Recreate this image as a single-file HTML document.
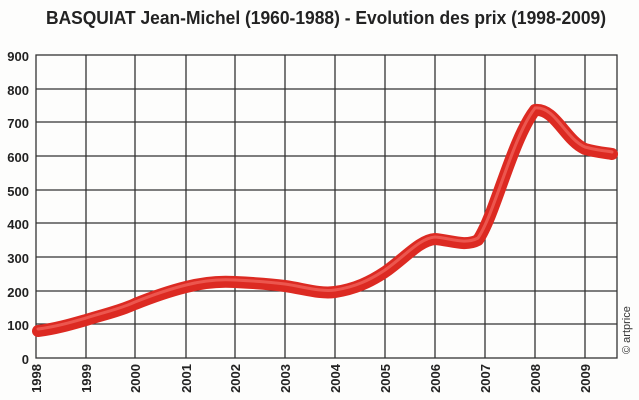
<!DOCTYPE html>
<html><head><meta charset="utf-8"><style>
body{margin:0;background:#fff;}
svg{display:block;font-family:"Liberation Sans",sans-serif;}
</style></head><body>
<svg width="639" height="400" viewBox="0 0 639 400">
<rect width="639" height="400" fill="#fdfdfc"/>
<text x="46" y="24" textLength="560" lengthAdjust="spacingAndGlyphs" font-size="18" font-weight="bold" fill="#222">BASQUIAT Jean-Michel (1960-1988) - Evolution des prix (1998-2009)</text>
<g stroke="#333" stroke-width="1.3" fill="none">
<rect x="36" y="55" width="581" height="303"/>
<line x1="36" x2="617" y1="89" y2="89"/><line x1="36" x2="617" y1="122" y2="122"/>
<line x1="36" x2="617" y1="156" y2="156"/><line x1="36" x2="617" y1="190" y2="190"/>
<line x1="36" x2="617" y1="223" y2="223"/><line x1="36" x2="617" y1="257" y2="257"/>
<line x1="36" x2="617" y1="291" y2="291"/><line x1="36" x2="617" y1="324" y2="324"/>
<line x1="86" x2="86" y1="55" y2="358"/><line x1="135" x2="135" y1="55" y2="358"/>
<line x1="186" x2="186" y1="55" y2="358"/><line x1="235" x2="235" y1="55" y2="358"/>
<line x1="285" x2="285" y1="55" y2="358"/><line x1="335" x2="335" y1="55" y2="358"/>
<line x1="385" x2="385" y1="55" y2="358"/><line x1="435" x2="435" y1="55" y2="358"/>
<line x1="485" x2="485" y1="55" y2="358"/><line x1="535" x2="535" y1="55" y2="358"/>
<line x1="585" x2="585" y1="55" y2="358"/>
</g>
<g font-size="13" font-weight="bold" fill="#222" text-anchor="end">
<text x="29" y="61">900</text><text x="29" y="95">800</text><text x="29" y="128">700</text>
<text x="29" y="162">600</text><text x="29" y="196">500</text><text x="29" y="229">400</text>
<text x="29" y="263">300</text><text x="29" y="297">200</text><text x="29" y="330">100</text>
<text x="29" y="364">0</text>
</g>
<g font-size="13" font-weight="bold" fill="#222" text-anchor="end">
<text transform="translate(41,364) rotate(-90)">1998</text>
<text transform="translate(91,364) rotate(-90)">1999</text>
<text transform="translate(140,364) rotate(-90)">2000</text>
<text transform="translate(191,364) rotate(-90)">2001</text>
<text transform="translate(240,364) rotate(-90)">2002</text>
<text transform="translate(290,364) rotate(-90)">2003</text>
<text transform="translate(340,364) rotate(-90)">2004</text>
<text transform="translate(390,364) rotate(-90)">2005</text>
<text transform="translate(440,364) rotate(-90)">2006</text>
<text transform="translate(490,364) rotate(-90)">2007</text>
<text transform="translate(540,364) rotate(-90)">2008</text>
<text transform="translate(590,364) rotate(-90)">2009</text>
</g>
<text transform="translate(630,354) rotate(-90)" font-size="11" fill="#333">© artprice</text>
<path d="M38,331 C55,329 72,324 86,320 C105,314 120,311 135,304 C155,296 170,291 186,287 C205,282 220,281 235,282 C255,283 270,284 285,286 C305,289 320,294 335,292 C355,289 370,282 385,272 C405,258 420,240 435,239 C450,240 465,247 478,240 C495,215 512,140 535,110 C555,108 565,140 585,149 C600,153 608,153 612,154" fill="none" stroke="#dc2a22" stroke-width="12" stroke-linecap="round" stroke-linejoin="round"/>
<path d="M38,329 C55,327 72,322 86,318 C105,312 120,309 135,302 C155,294 170,289 186,285 C205,280 220,279 235,280 C255,281 270,282 285,284 C305,287 320,292 335,290 C355,287 370,280 385,270 C405,256 420,238 435,237 C450,238 465,245 478,238 C495,213 512,138 535,108 C555,106 565,138 585,147 C600,151 608,151 612,152" fill="none" stroke="#f0625a" stroke-width="3" stroke-linecap="round" opacity="0.8"/>
</svg>
</body></html>
